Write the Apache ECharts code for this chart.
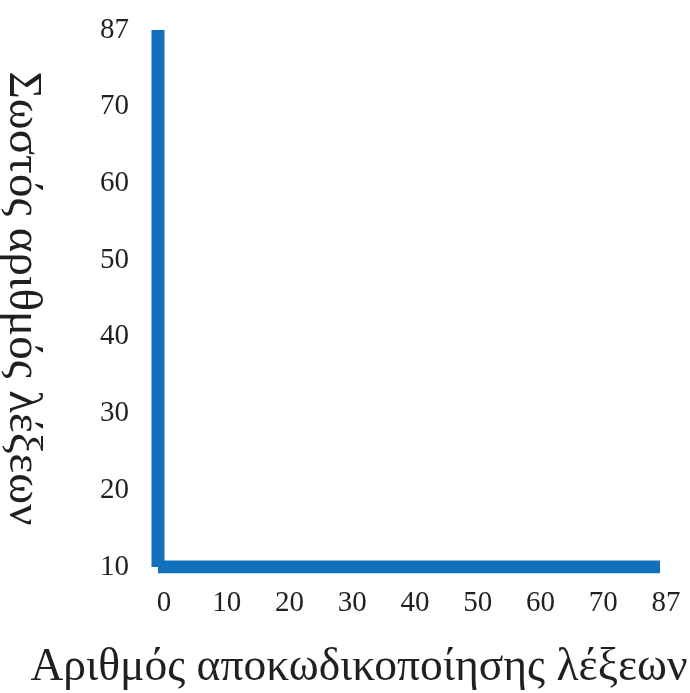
<!DOCTYPE html>
<html>
<head>
<meta charset="utf-8">
<script src="https://cdn.jsdelivr.net/npm/echarts@6/dist/echarts.min.js"></script>
<style>
html,body{margin:0;padding:0;background:#fff;}
#chart{width:690px;height:693px;}
</style>
</head>
<body>
<div id="chart"></div>
<script>
var xCategories = ['0', '10', '20', '30', '40', '50', '60', '70', '87'];
var yCategories = ['10', '20', '30', '40', '50', '60', '70', '87'];
var verticalSegment = [['0', '10'], ['0', '87']];
var horizontalSegment = [['0', '10'], ['87', '10']];
var xTitle = 'Αριθμός αποκωδικοποίησης λέξεων';
var yTitle = 'Σωστός αριθμός λέξεων';

var chart = echarts.init(document.getElementById('chart'));
var font = '"Liberation Serif", "DejaVu Serif", serif';
var lineColor = '#1271BD';
chart.setOption({
  animation: false,
  grid: { left: 158, right: 30, top: 30, bottom: 126, containLabel: false, outerBoundsMode: 'none' },
  xAxis: {
    type: 'category',
    data: xCategories,
    boundaryGap: false,
    axisLine: { show: false },
    axisTick: { show: false },
    splitLine: { show: false },
    axisLabel: { margin: 22, fontFamily: font, fontSize: 29, color: '#231f20', interval: 0, padding: [0, 0, 0, 12] },
    name: xTitle,
    nameLocation: 'middle',
    nameGap: 78,
    nameTextStyle: { fontFamily: font, fontSize: 45.5, color: '#231f20', padding: [0, 100, 0, 0] }
  },
  yAxis: {
    type: 'category',
    data: yCategories,
    boundaryGap: false,
    axisLine: { show: false },
    axisTick: { show: false },
    splitLine: { show: false },
    axisLabel: { margin: 29, fontFamily: font, fontSize: 29, color: '#231f20', interval: 0 },
    name: yTitle,
    nameLocation: 'middle',
    nameRotate: -90,
    nameGap: 112,
    nameTextStyle: { fontFamily: font, fontSize: 47, color: '#231f20' }
  },
  series: [
    {
      type: 'line',
      data: verticalSegment,
      symbol: 'none',
      lineStyle: { color: lineColor, width: 13, cap: 'butt' }
    },
    {
      type: 'line',
      data: horizontalSegment,
      symbol: 'none',
      lineStyle: { color: lineColor, width: 13, cap: 'butt' }
    }
  ]
});
</script>
</body>
</html>
